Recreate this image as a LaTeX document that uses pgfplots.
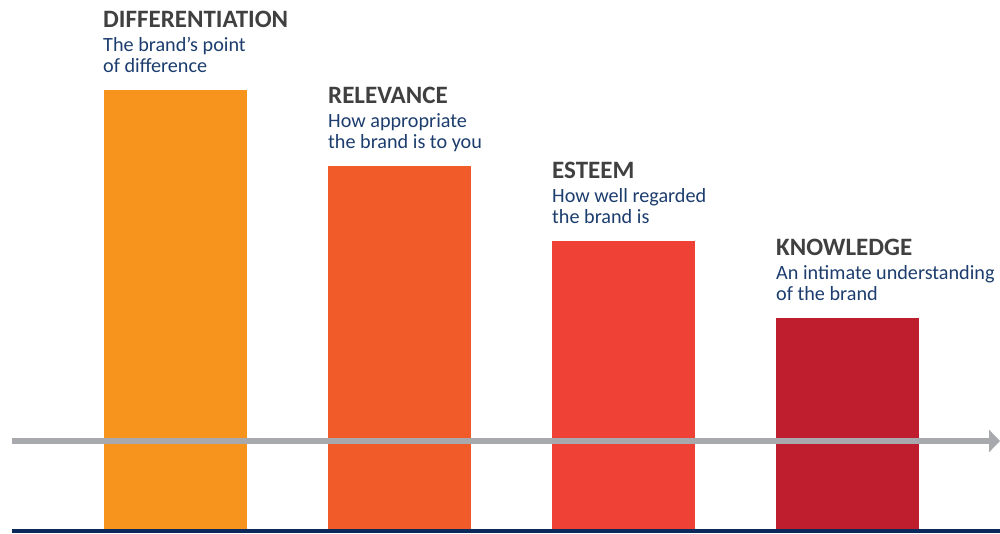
\documentclass[border=0pt]{standalone}
\usepackage{pgfplots}
\pgfplotsset{compat=1.18}
\usepackage{fontspec}
\setmainfont{Carlito}
\usetikzlibrary{arrows.meta}
\definecolor{c1}{HTML}{F7941D}
\definecolor{c2}{HTML}{F15A29}
\definecolor{c3}{HTML}{EF4136}
\definecolor{c4}{HTML}{BE1E2D}
\definecolor{ttl}{HTML}{404040}
\definecolor{sub}{HTML}{1C3D6E}
\definecolor{navy}{HTML}{0B2A5B}
\definecolor{arr}{HTML}{A7A9AC}
\tikzset{
  ttlf/.style={anchor=base west, inner sep=0pt, text=ttl, font=\fontsize{25}{30}\selectfont\bfseries},
  subf/.style={anchor=base west, inner sep=0pt, text=sub, font=\fontsize{20.2}{24}\selectfont},
}
\begin{document}
\begin{tikzpicture}
\begin{axis}[
  at={(0,0)}, anchor=south west,
  scale only axis, width=1000pt, height=533pt,
  xmin=0, xmax=1000, ymin=-3, ymax=530,
  hide axis, clip=false,
]
\addplot[ybar, bar width=143, bar shift=0, fill=c1, draw=none] coordinates {(175.5,440)};
\addplot[ybar, bar width=143, bar shift=0, fill=c2, draw=none] coordinates {(399.5,364)};
\addplot[ybar, bar width=143, bar shift=0, fill=c3, draw=none] coordinates {(623.5,289)};
\addplot[ybar, bar width=143, bar shift=0, fill=c4, draw=none] coordinates {(847.5,212)};
\draw[arr, line width=6pt, -{Triangle[length=11pt,width=22pt]}] (axis cs:12,89) -- (axis cs:1000,89);
\draw[navy, line width=4pt] (axis cs:12,-1) -- (axis cs:1000,-1);
\node[ttlf] at (axis cs:103,502) {DIFFERENTIATION};
\node[subf] at (axis cs:103,478) {The brand’s point};
\node[subf] at (axis cs:103,457) {of difference};
\node[ttlf] at (axis cs:328,426) {RELEVANCE};
\node[subf] at (axis cs:328,402) {How appropriate};
\node[subf] at (axis cs:328,381) {the brand is to you};
\node[ttlf] at (axis cs:552,351) {ESTEEM};
\node[subf] at (axis cs:552,327) {How well regarded};
\node[subf] at (axis cs:552,306) {the brand is};
\node[ttlf] at (axis cs:776,274) {KNOWLEDGE};
\node[subf] at (axis cs:776,250) {An intimate understanding};
\node[subf] at (axis cs:776,230) {of the brand};
\end{axis}
\pgfresetboundingbox
\path[use as bounding box] (0,0) rectangle (1000pt,533pt);
\end{tikzpicture}
\end{document}
